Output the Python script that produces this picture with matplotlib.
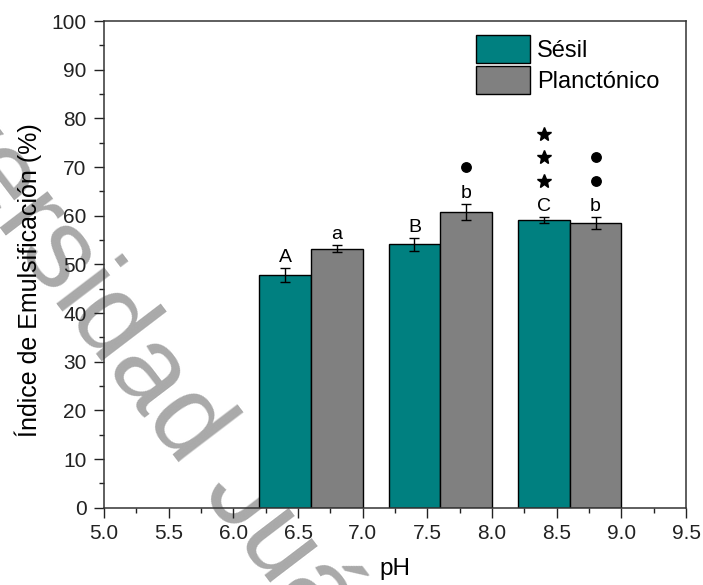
import numpy as np
import matplotlib
matplotlib.use("Agg")
import matplotlib.pyplot as plt
from matplotlib.ticker import MultipleLocator
from matplotlib.transforms import offset_copy

plt.rcParams["font.family"] = ["Liberation Sans", "DejaVu Sans"]

# emulsification index by pH (mean and error)
ph = np.array([6.5, 7.5, 8.5])
sesil = np.array([47.8, 54.1, 59.1])
sesil_err = np.array([1.5, 1.4, 0.6])
planct = np.array([53.2, 60.8, 58.5])
planct_err = np.array([0.7, 1.7, 1.3])

# significance letters and marks above each bar
sesil_letters = ["A", "B", "C"]
planct_letters = ["a", "b", "b"]
sesil_stars = [0, 0, 3]
planct_dots = [0, 1, 2]

teal = "#008080"
grey = "#808080"
width = 0.4

fig = plt.figure(figsize=(7.03, 5.85), dpi=100)
ax = fig.add_axes([0.148, 0.132, 0.828, 0.832])

x_s = ph - 0.1
x_p = ph + 0.3

ax.bar(x_s, sesil, width, color=teal, edgecolor="black", linewidth=1.0,
       label="Sésil", zorder=2)
ax.bar(x_p, planct, width, color=grey, edgecolor="black", linewidth=1.0,
       label="Planctónico", zorder=2)
ax.errorbar(x_s, sesil, yerr=sesil_err, fmt="none", ecolor="black",
            elinewidth=1.0, capsize=3.6, capthick=1.0, zorder=3)
ax.errorbar(x_p, planct, yerr=planct_err, fmt="none", ecolor="black",
            elinewidth=1.0, capsize=3.6, capthick=1.0, zorder=3)


def mark_bar(x, top, letter, n_sym, marker, msize):
    ax.annotate(letter, (x, top), xytext=(0, 7.6), textcoords="offset points",
                ha="center", va="center", fontsize=14, zorder=4)
    for k in range(n_sym):
        tr = offset_copy(ax.transData, fig=fig, x=0, y=26 + 17 * k,
                         units="points")
        ax.plot([x], [top], marker=marker, color="black", markersize=msize,
                linestyle="none", transform=tr, zorder=4, clip_on=False)


for i in range(len(ph)):
    mark_bar(x_s[i], sesil[i] + sesil_err[i], sesil_letters[i],
             sesil_stars[i], "*", 10)
    mark_bar(x_p[i], planct[i] + planct_err[i], planct_letters[i],
             planct_dots[i], "o", 6.8)

ax.set_xlim(5.0, 9.5)
ax.set_ylim(0, 100)
ax.xaxis.set_major_locator(MultipleLocator(0.5))
ax.xaxis.set_minor_locator(MultipleLocator(0.25))
ax.yaxis.set_major_locator(MultipleLocator(10))
ax.yaxis.set_minor_locator(MultipleLocator(5))
ax.xaxis.set_major_formatter(plt.FormatStrFormatter("%.1f"))
ax.tick_params(which="major", direction="out", length=7, width=1.0,
               labelsize=15, colors="#222222")
ax.tick_params(which="minor", direction="out", length=3.5, width=1.0,
               colors="#222222")
ax.tick_params(axis="x", which="major", pad=4.5)
ax.tick_params(axis="y", which="major", pad=5.5)
for sp in ax.spines.values():
    sp.set_linewidth(1.1)
    sp.set_color("#333333")

ax.set_xlabel("pH", fontsize=17.5)
ax.set_ylabel("Índice de Emulsificación (%)", fontsize=18)
ax.xaxis.set_label_coords(0.5, -0.103)
ax.yaxis.set_label_coords(-0.106, 0.468)

ax.legend(loc="upper left", bbox_to_anchor=(0.639, 0.971), frameon=False,
          fontsize=17, handlelength=2.3, handleheight=1.45,
          handletextpad=0.3, labelspacing=0.12, borderpad=0,
          borderaxespad=0)

# institutional watermark across the figure
ax.text(-0.259, 1.019, "Universidad Juárez Autónoma de Tabasco",
        transform=fig.transFigure, rotation=-52.7, rotation_mode="anchor",
        ha="left", va="baseline", fontsize=82, color="#a9a9a9",
        zorder=0.5, clip_on=False)

fig.savefig("out.png", dpi=100)
